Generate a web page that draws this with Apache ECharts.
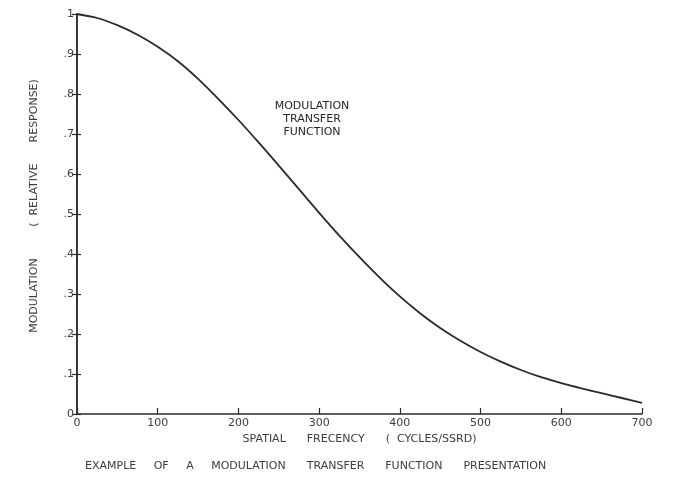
<!DOCTYPE html>
<html>
<head>
<meta charset="utf-8">
<script src="https://cdn.jsdelivr.net/npm/echarts@6/dist/echarts.min.js"></script>
<style>
  html, body { margin: 0; padding: 0; background: #fff; }
  #chart { width: 676px; height: 477px; }
</style>
</head>
<body>
<div id="chart"></div>
<script>
// Spatial frequency samples (cycles/SSRD) and the relative modulation response
const frequency = [0, 25, 50, 75, 100, 125, 150, 175, 200, 225, 250, 275, 300, 325,
  350, 375, 400, 425, 450, 475, 500, 525, 550, 575, 600, 625, 650, 675, 700];
const modulation = [1.0, 0.99, 0.972, 0.948, 0.918, 0.882, 0.838, 0.788, 0.735, 0.679,
  0.621, 0.562, 0.503, 0.446, 0.392, 0.341, 0.294, 0.252, 0.215, 0.183, 0.155, 0.131,
  0.11, 0.092, 0.077, 0.064, 0.052, 0.04, 0.028];

const xTicks = ['0', '100', '200', '300', '400', '500', '600', '700'];
const yTicks = ['0', '.1', '.2', '.3', '.4', '.5', '.6', '.7', '.8', '.9', '1'];

const curveLabel = 'MODULATION\nTRANSFER\nFUNCTION';
const xName = 'SPATIAL      FRECENCY      (  CYCLES/SSRD)';
const yName = 'MODULATION         (  RELATIVE      RESPONSE)';
const caption = 'EXAMPLE     OF     A     MODULATION      TRANSFER      FUNCTION      PRESENTATION';

const ink = '#2a2a2a';
const textInk = '#3c3c3c';
const font = 'DejaVu Sans';

const chart = echarts.init(document.getElementById('chart'), null, { renderer: 'canvas' });

const yAxisBase = {
  type: 'value', min: 0, max: 1, interval: 0.1,
  splitLine: { show: false },
  axisLine: { show: true, onZero: false, lineStyle: { color: ink, width: 1.5 } }
};

chart.setOption({
  backgroundColor: '#fff',
  animation: false,
  grid: { left: 77, right: 34, top: 14, bottom: 63 },
  xAxis: {
    type: 'value', min: 0, max: 700, interval: 100,
    name: xName, nameLocation: 'middle', nameGap: 19,
    nameTextStyle: { color: textInk, fontFamily: font, fontSize: 11 },
    splitLine: { show: false },
    axisLine: { lineStyle: { color: ink, width: 1.5 } },
    axisTick: { inside: true, length: 6, lineStyle: { color: ink, width: 1.2 } },
    axisLabel: {
      color: textInk, fontFamily: font, fontSize: 11, margin: 4,
      formatter: v => xTicks[Math.round(v / 100)]
    }
  },
  yAxis: [
    Object.assign({}, yAxisBase, {
      name: yName, nameLocation: 'middle', nameGap: 37, nameRotate: 90,
      nameTextStyle: { color: textInk, fontFamily: font, fontSize: 11, padding: [0, 0, 0, 16] },
      axisTick: { inside: false, length: 5, lineStyle: { color: ink, width: 1.2 } },
      axisLabel: {
        color: textInk, fontFamily: font, fontSize: 11, margin: 3,
        formatter: v => yTicks[Math.round(v * 10)]
      }
    }),
    Object.assign({}, yAxisBase, {
      position: 'left',
      axisTick: { inside: true, length: 4, lineStyle: { color: ink, width: 1.2 } },
      axisLabel: { show: false }
    })
  ],
  series: [{
    type: 'line',
    data: frequency.map((f, i) => [f, modulation[i]]),
    smooth: 0.3,
    showSymbol: false,
    lineStyle: { color: ink, width: 1.8 }
  }],
  graphic: [
    {
      type: 'text', x: 312, y: 100,
      style: {
        text: curveLabel, align: 'center', verticalAlign: 'top', fill: '#262626',
        font: '11px "DejaVu Sans"', lineHeight: 13
      }
    },
    {
      type: 'text', x: 85, y: 466,
      style: {
        text: caption, align: 'left', verticalAlign: 'middle', fill: textInk,
        font: '11px "DejaVu Sans"'
      }
    }
  ]
});
</script>
</body>
</html>
